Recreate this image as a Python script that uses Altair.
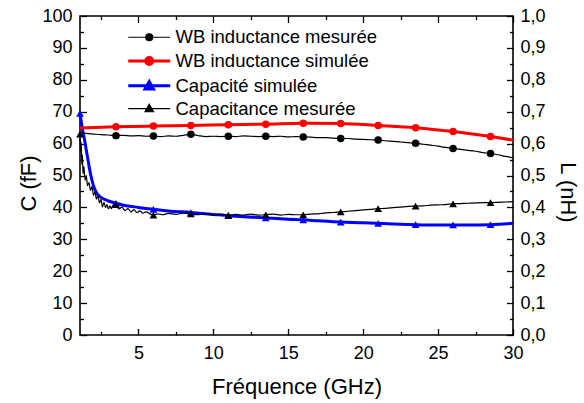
import altair as alt
import pandas as pd

# ---------------- data ----------------
S_LM = "WB inductance mesurée"
S_LS = "WB inductance simulée"
S_CS = "Capacité simulée"
S_CM = "Capacitance mesurée"
series_order = [S_LM, S_LS, S_CS, S_CM]
series_colors = ["#000000", "#ff0000", "#0000ff", "#000000"]
series_widths = [1.2, 3.0, 3.0, 1.2]

# inductance (nH)
ind_meas_f = [1.1, 1.5, 2.0, 2.5, 3.0, 3.5, 4.0, 4.5, 5.0, 5.5, 6, 6.5, 7.0, 7.5, 8.0, 8.5,
              9.0, 9.5, 10.0, 10.5, 11, 11.5, 12.0, 12.5, 13.0, 13.5, 14.0, 14.5, 15.0, 15.5,
              16, 16.5, 17.0, 17.5, 18.0, 18.5, 19.0, 19.5, 20.0, 20.5, 21, 21.5, 22.0, 22.5,
              23.0, 23.5, 24.0, 24.5, 25.0, 25.5, 26, 26.5, 27.0, 27.5, 28.0, 28.5, 29.0, 29.5, 30.0]
ind_meas = [0.636, 0.632, 0.630, 0.628, 0.627, 0.625, 0.626, 0.624, 0.625, 0.623, 0.624, 0.622,
            0.624, 0.623, 0.626, 0.629, 0.625, 0.622, 0.623, 0.622, 0.623, 0.622, 0.624, 0.623,
            0.622, 0.623, 0.622, 0.623, 0.621, 0.622, 0.621, 0.620, 0.619, 0.619, 0.617, 0.616,
            0.616, 0.614, 0.613, 0.612, 0.611, 0.609, 0.607, 0.605, 0.603, 0.601, 0.598, 0.595,
            0.592, 0.588, 0.585, 0.582, 0.579, 0.576, 0.572, 0.569, 0.565, 0.560, 0.556]
ind_sim_f = [1.1, 3.5, 6, 8.5, 11, 13.5, 16, 18.5, 21, 23.5, 26, 28.5, 30.0]
ind_sim = [0.649, 0.653, 0.655, 0.657, 0.659, 0.661, 0.664, 0.663, 0.657, 0.650, 0.638, 0.622, 0.611]

# capacitance (fF)
cap_sim_f = [1.1, 1.2, 1.3, 1.4, 1.5, 1.6, 1.8, 2.0, 2.2, 2.4, 2.7, 3.0, 3.5, 4.0, 5.0, 6,
             7.0, 8.5, 10.0, 11, 12.0, 13.5, 15.0, 16, 17.0, 18.5, 20.0, 21, 22.0, 23.5,
             25.0, 26, 27.0, 28.5, 30.0]
cap_sim = [69.5, 66.5, 63.5, 61.3, 58.5, 55.8, 50.5, 46.8, 44.6, 43.5, 42.6, 42.0, 41.3, 40.7,
           40.0, 39.4, 38.9, 38.4, 37.8, 37.4, 37.1, 36.7, 36.3, 36.1, 35.8, 35.4, 35.2, 35.0,
           34.8, 34.6, 34.5, 34.5, 34.5, 34.6, 35.0]
cap_meas_f = [1.1, 1.14, 1.18, 1.22, 1.26, 1.3, 1.36, 1.44, 1.52, 1.6, 1.7, 1.8, 1.9, 2.0,
              2.1, 2.2, 2.3, 2.4, 2.5, 2.6, 2.7, 2.8, 2.9, 3.0, 3.1, 3.2, 3.3, 3.5, 3.7, 3.9,
              4.1, 4.3, 4.5, 4.7, 4.9, 5.1, 5.3, 5.5, 5.8, 6, 6.3, 6.6, 7.0, 7.5, 8.0, 8.5,
              9.0, 9.5, 10.0, 10.5, 11, 11.5, 12.0, 12.5, 13.0, 13.5, 14.0, 14.5, 15.0, 15.5,
              16, 16.5, 17.0, 17.5, 18.0, 18.5, 19.0, 19.5, 20.0, 20.5, 21, 21.5, 22.0, 22.5,
              23.0, 23.5, 24.0, 24.5, 25.0, 25.5, 26, 26.5, 27.0, 27.5, 28.0, 28.5, 29.0, 29.5, 30.0]
cap_meas = [63.0, 57.5, 60.5, 53.5, 56.5, 50.5, 52.8, 48.5, 50.0, 46.8, 47.8, 45.3, 46.5, 43.8,
            44.8, 42.6, 43.7, 41.4, 42.5, 40.1, 41.6, 39.9, 40.9, 39.5, 40.5, 39.6, 40.7, 40.9,
            39.5, 40.1, 39.0, 39.6, 38.6, 39.3, 38.4, 38.9, 38.2, 38.6, 37.9, 37.6, 38.0, 37.7,
            38.1, 37.8, 38.2, 38.0, 37.7, 38.0, 37.6, 37.8, 37.5, 37.8, 37.6, 37.9, 37.6, 37.7,
            37.9, 37.6, 37.8, 37.7, 37.7, 37.9, 38.0, 38.3, 38.4, 38.6, 38.8, 39.0, 39.2, 39.4,
            39.6, 39.7, 39.9, 40.1, 40.3, 40.4, 40.5, 40.7, 40.8, 40.9, 41.1, 41.2, 41.3, 41.4,
            41.5, 41.5, 41.6, 41.7, 41.8]

marker_f_ind = [3.5, 6, 8.5, 11, 13.5, 16, 18.5, 21, 23.5, 26, 28.5]
marker_f_cap = [1.1] + marker_f_ind

x_major = [5, 10, 15, 20, 25, 30]
x_minor = [2.5, 7.5, 12.5, 17.5, 22.5, 27.5]
c_major = [0, 10, 20, 30, 40, 50, 60, 70, 80, 90, 100]
c_minor = [5, 15, 25, 35, 45, 55, 65, 75, 85, 95]
l_major = [0.0, 0.1, 0.2, 0.3, 0.4, 0.5, 0.6, 0.7, 0.8, 0.9, 1.0]
l_minor = [0.05, 0.15, 0.25, 0.35, 0.45, 0.55, 0.65, 0.75, 0.85, 0.95]

# ---------------- tables ----------------
ind_df = pd.concat([
    pd.DataFrame({"f": ind_meas_f, "v": ind_meas, "series": S_LM}),
    pd.DataFrame({"f": ind_sim_f, "v": ind_sim, "series": S_LS}),
], ignore_index=True)
cap_df = pd.concat([
    pd.DataFrame({"f": cap_sim_f, "v": cap_sim, "series": S_CS}),
    pd.DataFrame({"f": cap_meas_f, "v": cap_meas, "series": S_CM}),
], ignore_index=True)
ind_mk = ind_df[ind_df["f"].isin(marker_f_ind)]
cap_mk = cap_df[cap_df["f"].isin(marker_f_cap)]
legend_df = pd.DataFrame({"series": series_order})

# ---------------- scales ----------------
FONT = "Liberation Sans"
xs = alt.Scale(domain=[1.1, 30], nice=False, zero=False)
cs = alt.Scale(domain=[0, 100], nice=False, zero=False)
ls = alt.Scale(domain=[0, 1], nice=False, zero=False)
color_scale = alt.Scale(domain=series_order, range=series_colors)
width_scale = alt.Scale(type="ordinal", domain=series_order, range=series_widths)
shape_scale = alt.Scale(domain=series_order,
                        range=["circle", "circle", "triangle-up", "triangle-up"])
P_CIRC = "M-3,0L3,0M0.5,0A0.5,0.5,0,1,1,-0.5,0A0.5,0.5,0,1,1,0.5,0Z"
P_TRI = "M-3,0L3,0M0,-0.62L0.6,0.44L-0.6,0.44Z"
legend_shape_scale = alt.Scale(domain=series_order, range=[P_CIRC, P_CIRC, P_TRI, P_TRI])

MAJ = 6.5
MIN = 3.5


def axis(orient, values, tick, **kw):
    opts = dict(orient=orient, values=values, tickSize={"expr": str(-tick)},
                domain=False, grid=False, ticks=True, tickColor="black", tickWidth=1.3)
    opts.update(kw)
    if "labels" not in opts:
        opts["labels"] = False
    if "title" not in opts:
        opts["title"] = None
    return alt.Axis(**opts)


# ---------------- layers ----------------
cap_lines = alt.Chart(cap_df).mark_line(interpolate="monotone").encode(
    x=alt.X("f:Q", scale=xs, axis=axis("bottom", x_major, MAJ, labels=True, labelPadding=9 + MAJ,
                                       labelFlush=False, title="Fréquence (GHz)",
                                       titleX=216.5, titleY=58, titleAlign="center",
                                       titleBaseline="alphabetic")),
    y=alt.Y("v:Q", scale=cs, axis=axis("left", c_major, MAJ, labels=True, labelPadding=8 + MAJ,
                                       title="C (fF)", titleAngle=270, titleX=-45, titleY=167,
                                       titleAlign="center", titleBaseline="alphabetic")),
    color=alt.Color("series:N", scale=color_scale, legend=None),
    strokeWidth=alt.StrokeWidth("series:N", scale=width_scale, legend=None),
    detail="series:N",
)

cap_marks = alt.Chart(cap_mk).mark_point(filled=True, size=60, opacity=1).encode(
    x=alt.X("f:Q", scale=xs, axis=axis("bottom", x_minor, MIN)),
    y=alt.Y("v:Q", scale=cs, axis=axis("left", c_minor, MIN)),
    color=alt.Color("series:N", scale=color_scale, legend=None),
    shape=alt.Shape("series:N", scale=shape_scale, legend=None),
)

ind_lines = alt.Chart(ind_df).mark_line(interpolate="monotone").encode(
    x=alt.X("f:Q", scale=xs, axis=axis("top", x_major, MAJ)),
    y=alt.Y("v:Q", scale=ls, axis=axis("right", l_major, MAJ, labels=True, labelPadding=7 + MAJ,
                                       labelExpr="replace(format(datum.value, '.1f'), '.', ',')",
                                       title="L (nH)", titleAngle=90, titleX=47, titleY=176,
                                       titleAlign="center", titleBaseline="alphabetic")),
    color=alt.Color("series:N", scale=color_scale, legend=None),
    strokeWidth=alt.StrokeWidth("series:N", scale=width_scale, legend=None),
    detail="series:N",
)

ind_marks = alt.Chart(ind_mk).mark_point(filled=True, size=56, opacity=1).encode(
    x=alt.X("f:Q", scale=xs, axis=axis("top", x_minor, MIN)),
    y=alt.Y("v:Q", scale=ls, axis=axis("right", l_minor, MIN)),
    color=alt.Color("series:N", scale=color_scale, legend=None),
    shape=alt.Shape("series:N", scale=shape_scale, legend=None),
)

leg = alt.Legend(orient="none", legendX=60, legendY=12, title=None, padding=0,
                 symbolSize=196, symbolOpacity=1, labelOffset=17, rowPadding=3.8,
                 labelFont=FONT, labelFontSize=18.5, labelColor="black", labelLimit=400)

legend_layer = alt.Chart(legend_df).mark_point(filled=True, opacity=0).encode(
    fill=alt.Fill("series:N", scale=color_scale, legend=leg),
    stroke=alt.Stroke("series:N", scale=color_scale, legend=leg),
    shape=alt.Shape("series:N", scale=legend_shape_scale, legend=leg),
    strokeWidth=alt.StrokeWidth("series:N", scale=width_scale, legend=leg),
)

chart = alt.layer(cap_lines, cap_marks, ind_lines, ind_marks, legend_layer).resolve_scale(
    x="independent", y="independent", color="independent", shape="independent",
    strokeWidth="independent", fill="independent", stroke="independent",
).resolve_axis(x="independent", y="independent").properties(
    width=433, height=319,
    autosize=alt.AutoSizeParams(type="none"),
    padding={"left": 80, "top": 16, "right": 71, "bottom": 68},
    background="white",
).configure_view(
    stroke="black", strokeWidth=1.6,
).configure_axis(
    labelFont=FONT, labelFontSize=18, labelColor="black",
    titleFont=FONT, titleFontSize=22, titleFontWeight="normal", titleColor="black",
)

chart.save("out.html", embed_options={"renderer": "svg", "actions": False})
